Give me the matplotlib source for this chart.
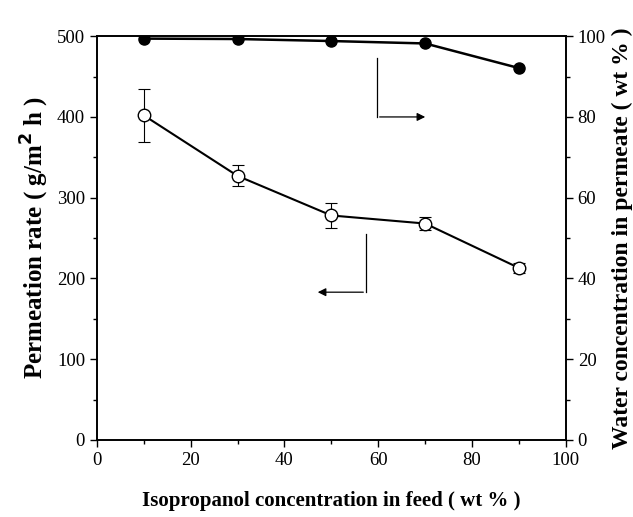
import numpy as np
import matplotlib.pyplot as plt

plt.rcParams['font.family'] = ['Liberation Serif', 'DejaVu Serif']

# isopropanol concentration in feed (wt %)
feed = [10, 30, 50, 70, 90]
# permeation rate (g/m2 h) with error bars
flux = [402, 327, 278, 268, 213]
flux_err = [33, 13, 16, 8, 6]
# water concentration in permeate (wt %)
water = [99.4, 99.3, 98.8, 98.2, 92.1]

fig = plt.figure(figsize=(6.33, 5.17), dpi=100)
ax = fig.add_axes([0.153, 0.149, 0.741, 0.781])
ax2 = ax.twinx()

ax.errorbar(feed, flux, yerr=flux_err, fmt='-o', color='black', mfc='white',
            mec='black', ms=9, lw=1.5, elinewidth=0.8, capsize=4, capthick=0.8, zorder=3)
ax2.plot(feed, water, '-o', color='black', ms=8, lw=1.8)

ax.set_xlim(0, 100)
ax.set_ylim(0, 500)
ax2.set_ylim(0, 100)
ax.set_xticks(np.arange(0, 101, 20))
ax.set_xticks(np.arange(10, 100, 20), minor=True)
ax.set_yticks(np.arange(0, 501, 100))
ax.set_yticks(np.arange(50, 500, 100), minor=True)
ax2.set_yticks(np.arange(0, 101, 20))
ax2.set_yticks(np.arange(10, 100, 20), minor=True)

for a in (ax, ax2):
    a.tick_params(which='major', length=5, width=1, labelsize=13.5)
    a.tick_params(which='minor', length=3, width=1)
    for s in a.spines.values():
        s.set_linewidth(1.2)

ax.set_xlabel('Isopropanol concentration in feed ( wt % )', fontsize=15,
              fontweight='bold', labelpad=16)
ax.set_ylabel('Permeation rate ( g/m$^{\\mathbf{2}}$ h )', fontsize=18,
              fontweight='bold', labelpad=4)
ax2.set_ylabel('Water concentration in permeate ( wt % )', fontsize=17,
               fontweight='bold', labelpad=4)

# indicator arrows
ax.plot([57.4, 57.4], [255, 183], color='black', lw=0.9)
ax.annotate('', xy=(46.5, 183), xytext=(57.4, 183),
            arrowprops=dict(arrowstyle='-|>', color='black', lw=0.9, mutation_scale=12))
ax.plot([59.7, 59.7], [473, 400], color='black', lw=0.9)
ax.annotate('', xy=(70.6, 400), xytext=(59.7, 400),
            arrowprops=dict(arrowstyle='-|>', color='black', lw=0.9, mutation_scale=12))

fig.savefig('out.png', dpi=100)
